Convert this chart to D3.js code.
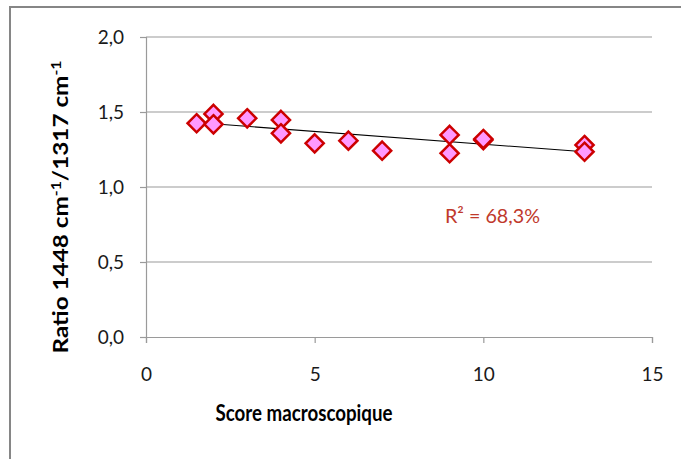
<!DOCTYPE html>
<html><head><meta charset="utf-8">
<script src="https://cdn.jsdelivr.net/npm/d3@7"></script>
<style>
html,body{margin:0;padding:0;background:#fff;}
svg{display:block;}
text{font-family:Lato,"Noto Sans",sans-serif;}
</style></head>
<body>
<svg id="c" width="681" height="459"></svg>
<script>
// Data
const scores = [1.5, 2, 2, 3, 4, 4, 5, 6, 7, 9, 9, 10, 10, 13, 13];
const ratios = [1.425, 1.487, 1.418, 1.458, 1.447, 1.358, 1.291, 1.309, 1.242, 1.347, 1.225, 1.313, 1.320, 1.280, 1.235];
const xTicks = [0, 5, 10, 15];
const yTicks = [0, 0.5, 1.0, 1.5, 2.0];
const r2Label = "R² = 68,3%";
const xTitle = "Score macroscopique";

const svg = d3.select("#c");
// outer frame
svg.append("rect").attr("x",10).attr("y",7).attr("width",700).attr("height",480)
  .attr("fill","none").attr("stroke","#868686").attr("stroke-width",2);

const x = d3.scaleLinear().domain([0,15]).range([146,652]);
const y = d3.scaleLinear().domain([0,2]).range([337,37]);
const fmt = v => d3.format(".1f")(v).replace(".", ",");

// gridlines
svg.append("g").selectAll("line").data(yTicks.filter(d=>d>0)).join("line")
  .attr("x1",x(0)).attr("x2",x(15)).attr("y1",d=>y(d)).attr("y2",d=>y(d))
  .attr("stroke","#9a9a9a").attr("stroke-width",1.2);

// y axis
const ya = svg.append("g").attr("transform",`translate(${x(0)},0)`)
  .call(d3.axisLeft(y).tickValues(yTicks).tickFormat(fmt).tickSize(6).tickPadding(16));
// x axis
const xa = svg.append("g").attr("transform",`translate(0,${y(0)})`)
  .call(d3.axisBottom(x).tickValues(xTicks).tickSize(6).tickPadding(24));
[ya,xa].forEach(a=>{
  a.select(".domain").attr("stroke","#9a9a9a").attr("stroke-width",1.2);
  a.selectAll(".tick line").attr("stroke","#9a9a9a").attr("stroke-width",1.2);
  a.selectAll(".tick text").attr("fill","#1a1a1a").attr("font-size",19)
    .attr("font-family","Lato, 'Noto Sans', sans-serif");
});
xa.selectAll(".tick text").attr("dy","0.75em");

// trend line (least squares over the data)
const n = scores.length;
const mx = d3.mean(scores), my = d3.mean(ratios);
let sxy=0,sxx=0;
for(let i=0;i<n;i++){sxy+=(scores[i]-mx)*(ratios[i]-my);sxx+=(scores[i]-mx)**2;}
const b = sxy/sxx, a0 = my-b*mx;
const x0 = d3.min(scores), x1 = d3.max(scores);
svg.append("line").attr("x1",x(x0)).attr("y1",y(a0+b*x0)).attr("x2",x(x1)).attr("y2",y(a0+b*x1))
  .attr("stroke","#000").attr("stroke-width",1.1);

// diamonds
const pts = scores.map((s,i)=>({s, r:ratios[i]}));
svg.append("g").selectAll("path").data(pts).join("path")
  .attr("d", d3.symbol().type(d3.symbolDiamond2).size(210))
  .attr("transform",d=>`translate(${x(d.s)},${y(d.r)})`)
  .attr("fill","#ff99ff").attr("stroke","#cc0000").attr("stroke-width",2.5);

// R² label
svg.append("text").attr("x",445).attr("y",223).attr("fill","#c0392b")
  .attr("font-size",20).attr("textLength",95).attr("lengthAdjust","spacingAndGlyphs").text(r2Label);

// x title
svg.append("text").attr("x",304).attr("y",421).attr("text-anchor","middle")
  .attr("font-size",23).attr("font-weight","bold").attr("fill","#000")
  .attr("textLength",177).attr("lengthAdjust","spacingAndGlyphs").text(xTitle);

// y title
const yt = svg.append("text").attr("transform","translate(68,207) rotate(-90)")
  .attr("text-anchor","middle").attr("font-size",20).attr("font-weight","bold").attr("fill","#000")
  .attr("textLength",293).attr("lengthAdjust","spacingAndGlyphs");
yt.append("tspan").text("Ratio 1448 cm");
yt.append("tspan").attr("dy",-7).attr("font-size",13).text("-1");
yt.append("tspan").attr("dy",7).text("/1317 cm");
yt.append("tspan").attr("dy",-7).attr("font-size",13).text("-1");
</script>
</body></html>
